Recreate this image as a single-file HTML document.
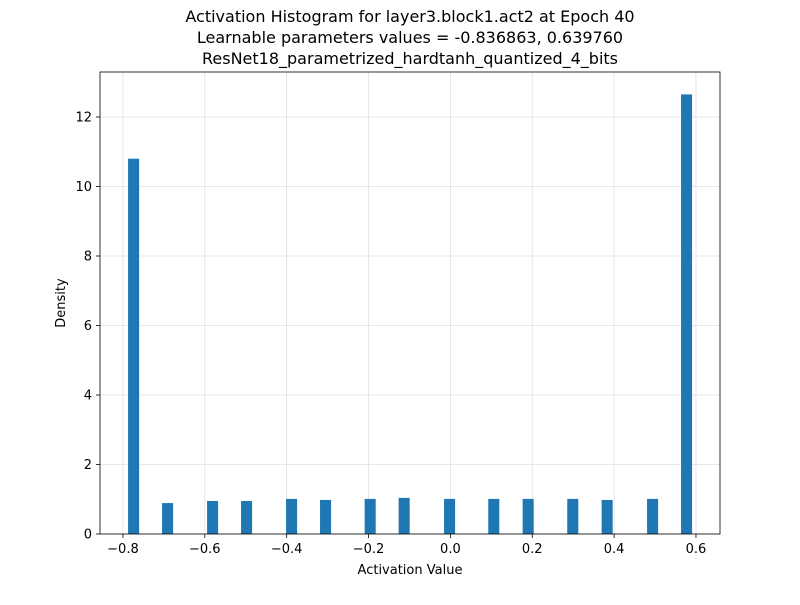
<!DOCTYPE html>
<html><head><meta charset="utf-8"><style>
body{margin:0;background:#fff;font-family:"Liberation Sans","DejaVu Sans",sans-serif}
</style></head><body>
<svg id="chart" width="800" height="600" xmlns="http://www.w3.org/2000/svg" font-family="DejaVu Sans, Liberation Sans, sans-serif">
<rect width="800" height="600" fill="#fff"/>
<g font-size="16" text-anchor="middle" fill="#000">
<text x="410" y="22">Activation Histogram for layer3.block1.act2 at Epoch 40</text>
<text x="410" y="43">Learnable parameters values = -0.836863, 0.639760</text>
<text x="410" y="64">ResNet18_parametrized_hardtanh_quantized_4_bits</text>
</g>
<g id="grid"></g><g id="bars"></g><g id="axes"></g>
<text x="410" y="574" font-size="13" text-anchor="middle">Activation Value</text>
<text x="0" y="0" font-size="13" text-anchor="middle" transform="translate(65,303) rotate(-90)">Density</text>
</svg>
<script>
const binCenters=[-0.774,-0.691,-0.581,-0.498,-0.388,-0.305,-0.196,-0.113,-0.002,0.106,0.190,0.299,0.383,0.494,0.577];
const densities=[10.8,0.89,0.95,0.95,1.01,0.98,1.01,1.04,1.01,1.01,1.01,1.01,0.98,1.01,12.65];
const binWidth=0.027;
const xTicks=[-0.8,-0.6,-0.4,-0.2,0.0,0.2,0.4,0.6];
const xTickLabels=["−0.8","−0.6","−0.4","−0.2","0.0","0.2","0.4","0.6"];
const yTicks=[0,2,4,6,8,10,12];
const L=100,R=720,T=72,B=534;
const xs=v=>450.4+v*409.3;
const ys=v=>534-v*34.75;
const NS="http://www.w3.org/2000/svg";
function mk(tag,attrs,parent){const e=document.createElementNS(NS,tag);for(const k in attrs)e.setAttribute(k,attrs[k]);parent.appendChild(e);return e;}
const grid=document.getElementById('grid'),bars=document.getElementById('bars'),axes=document.getElementById('axes');
xTicks.forEach((t,i)=>{const x=xs(t);
const g=mk('line',{x1:x,x2:x,y1:T,y2:B,stroke:'#e0e0e0','stroke-width':0.8},grid);

const tk=mk('line',{x1:x,x2:x,y1:B,y2:B+4,stroke:'#000','stroke-width':0.8},axes);

const lb=mk('text',{x:x,y:B+19,'font-size':13,'text-anchor':'middle'},axes);lb.textContent=xTickLabels[i];
});
yTicks.forEach(t=>{const y=ys(t);
const g=mk('line',{x1:L,x2:R,y1:y,y2:y,stroke:'#e0e0e0','stroke-width':0.8},grid);

const tk=mk('line',{x1:L-4,x2:L,y1:y,y2:y,stroke:'#000','stroke-width':0.8},axes);

const lb=mk('text',{x:L-8,y:y+4.5,'font-size':13,'text-anchor':'end'},axes);lb.textContent=String(t);
});
binCenters.forEach((c,i)=>{const x0=xs(c-binWidth/2),x1=xs(c+binWidth/2),y=ys(densities[i]);
const r=mk('rect',{x:x0,y:y,width:x1-x0,height:B-y,fill:'#1f77b4'},bars);
});
const fr=mk('rect',{x:L,y:T,width:R-L,height:B-T,fill:'none',stroke:'#000','stroke-width':0.8},axes);

</script>
</body></html>
